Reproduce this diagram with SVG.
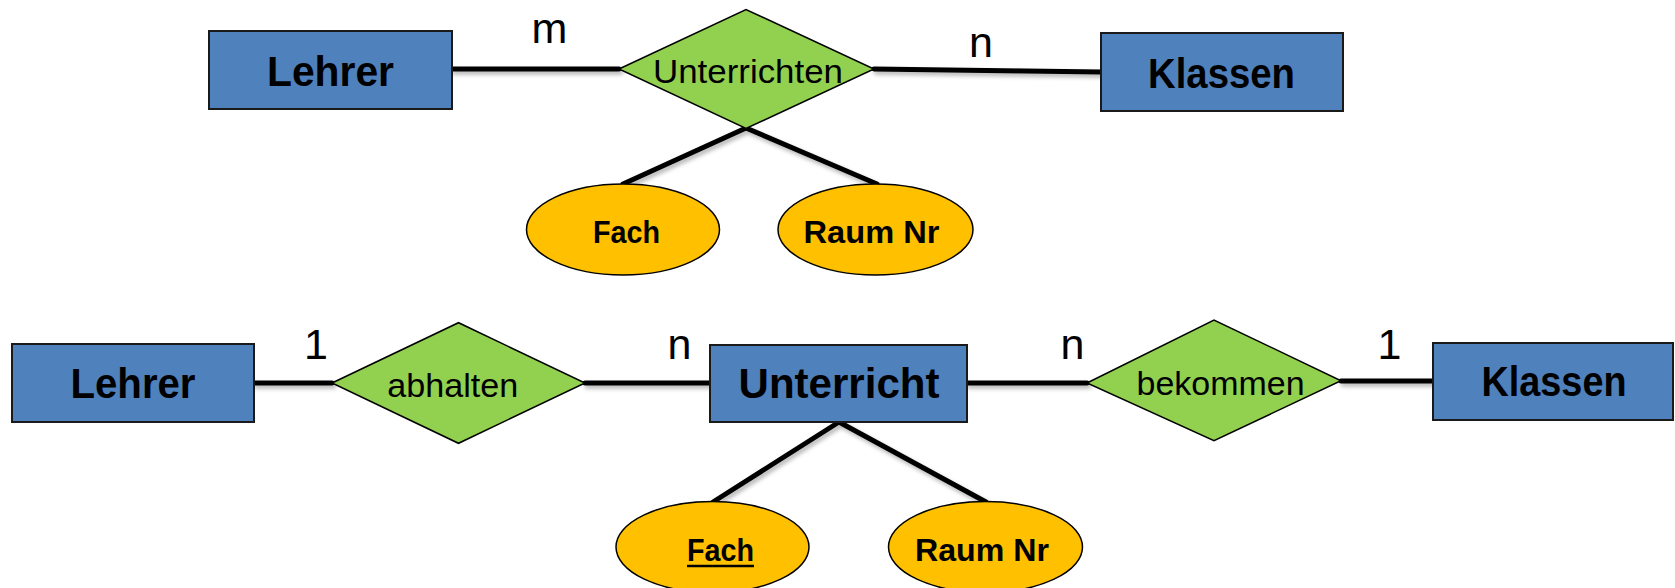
<svg xmlns="http://www.w3.org/2000/svg" width="1675" height="588" viewBox="0 0 1675 588">
<defs>
<style>
.ent{fill:#4F81BD;stroke:#1a1a1a;stroke-width:2}
.rel{fill:#92D050;stroke:#000;stroke-width:1.5}
.att{fill:#FFC000;stroke:#000;stroke-width:1.5}
.ln{stroke:#000;stroke-width:5;stroke-linecap:round;fill:none}
.te{font-family:"Liberation Sans",Arial,sans-serif;font-weight:bold;font-size:42px;fill:#000;text-anchor:middle}
.tr{font-family:"Liberation Sans",Arial,sans-serif;font-size:34px;fill:#000;text-anchor:middle}
.ta{font-family:"Liberation Sans",Arial,sans-serif;font-weight:bold;font-size:32px;fill:#000;text-anchor:middle}
.tc{font-family:"Liberation Sans",Arial,sans-serif;font-size:43px;fill:#000;text-anchor:middle}
</style>
<filter id="sh" x="-20%" y="-50%" width="140%" height="200%">
<feDropShadow dx="2" dy="3" stdDeviation="2" flood-color="#000" flood-opacity="0.3"/>
</filter>
</defs>
<rect width="1675" height="588" fill="#fff"/>
<g id="connectors" filter="url(#sh)">
<line class="ln" x1="452" y1="69" x2="619" y2="69"/>
<line class="ln" x1="874" y1="69" x2="1101" y2="72"/>
<line class="ln" x1="746" y1="128" x2="623" y2="184"/>
<line class="ln" x1="746" y1="128" x2="877" y2="184"/>
<line class="ln" x1="254" y1="383" x2="332" y2="383"/>
<line class="ln" x1="585" y1="383" x2="710" y2="383"/>
<line class="ln" x1="967" y1="383" x2="1087" y2="383"/>
<line class="ln" x1="1341" y1="381" x2="1433" y2="381"/>
<line class="ln" x1="839" y1="422" x2="713" y2="502"/>
<line class="ln" x1="839" y1="422" x2="986" y2="502"/>
</g>
<g id="labels">
<text class="tc" x="549.5" y="42.7">m</text>
<text class="tc" x="981" y="57">n</text>
<text class="tc" x="316" y="359">1</text>
<text class="tc" x="679.5" y="359">n</text>
<text class="tc" x="1072.5" y="359">n</text>
<text class="tc" x="1389.5" y="359">1</text>
</g>
<g id="lehrer1">
<rect class="ent" x="209" y="31" width="243" height="78"/>
<text class="te" x="330.5" y="85.7" textLength="127" lengthAdjust="spacingAndGlyphs">Lehrer</text>
</g>
<g id="unterrichten">
<polygon class="rel" points="619,69 746,9.5 874,69 746,128.5"/>
<text class="tr" x="748" y="83.3" textLength="190" lengthAdjust="spacingAndGlyphs">Unterrichten</text>
</g>
<g id="klassen1">
<rect class="ent" x="1101" y="33" width="242" height="78"/>
<text class="te" x="1221.5" y="88" textLength="147" lengthAdjust="spacingAndGlyphs">Klassen</text>
</g>
<g id="fach1">
<ellipse class="att" cx="623" cy="229.5" rx="96.5" ry="45.5"/>
<text class="ta" x="626.5" y="243.3" textLength="67" lengthAdjust="spacingAndGlyphs">Fach</text>
</g>
<g id="raum1">
<ellipse class="att" cx="875.5" cy="229.5" rx="97.5" ry="45.5"/>
<text class="ta" x="871.5" y="243.3" textLength="136" lengthAdjust="spacingAndGlyphs">Raum Nr</text>
</g>
<g id="lehrer2">
<rect class="ent" x="12" y="344" width="242" height="78"/>
<text class="te" x="133" y="398" textLength="125" lengthAdjust="spacingAndGlyphs">Lehrer</text>
</g>
<g id="abhalten">
<polygon class="rel" points="332,383 458.5,322.7 585,383 458.5,443.3"/>
<text class="tr" x="452.8" y="397.3" textLength="131" lengthAdjust="spacingAndGlyphs">abhalten</text>
</g>
<g id="unterricht">
<rect class="ent" x="710" y="345" width="257" height="77"/>
<text class="te" x="839" y="398" textLength="201" lengthAdjust="spacingAndGlyphs">Unterricht</text>
</g>
<g id="bekommen">
<polygon class="rel" points="1087,383 1214,320 1341,380.7 1214,440.7"/>
<text class="tr" x="1220.6" y="394.7" textLength="168" lengthAdjust="spacingAndGlyphs">bekommen</text>
</g>
<g id="klassen2">
<rect class="ent" x="1433" y="343" width="240" height="77"/>
<text class="te" x="1554" y="395.7" textLength="145" lengthAdjust="spacingAndGlyphs">Klassen</text>
</g>
<g id="fach2">
<ellipse class="att" cx="712.5" cy="547" rx="96.5" ry="45.5"/>
<text class="ta" x="720.5" y="561" textLength="67" lengthAdjust="spacingAndGlyphs">Fach</text>
<line x1="687" y1="566" x2="754" y2="566" stroke="#000" stroke-width="2.5"/>
</g>
<g id="raum2">
<ellipse class="att" cx="985.5" cy="547" rx="97" ry="45.5"/>
<text class="ta" x="982" y="560.7" textLength="134" lengthAdjust="spacingAndGlyphs">Raum Nr</text>
</g>
</svg>
